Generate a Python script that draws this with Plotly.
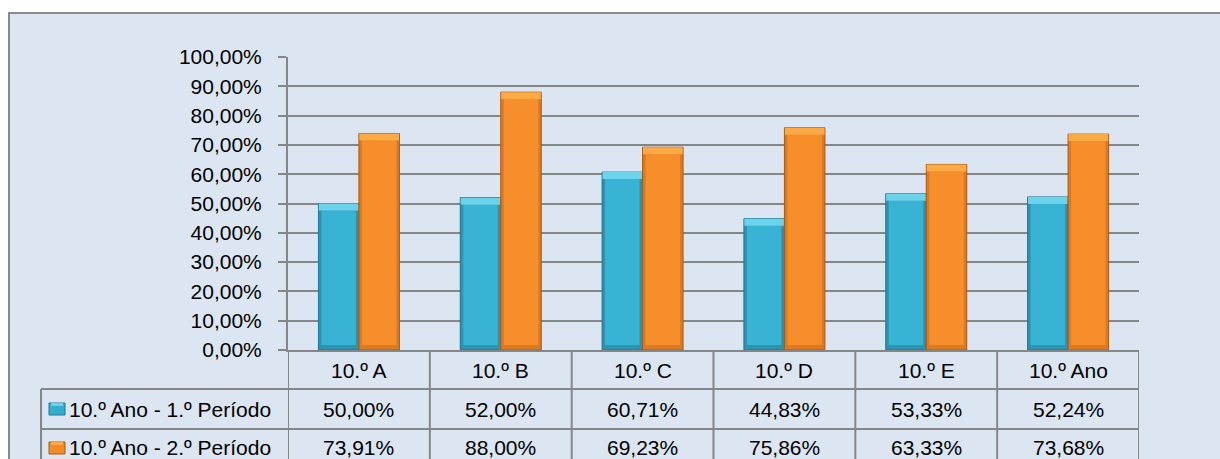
import plotly.graph_objects as go

# ---- data ----
categories = ["10.º A", "10.º B", "10.º C", "10.º D", "10.º E", "10.º Ano"]
series_names = ["10.º Ano - 1.º Período", "10.º Ano - 2.º Período"]
periodo1 = [50.00, 52.00, 60.71, 44.83, 53.33, 52.24]
periodo2 = [73.91, 88.00, 69.23, 75.86, 63.33, 73.68]
tick_vals = [0, 10, 20, 30, 40, 50, 60, 70, 80, 90, 100]
tick_labels = ["0,00%", "10,00%", "20,00%", "30,00%", "40,00%", "50,00%",
               "60,00%", "70,00%", "80,00%", "90,00%", "100,00%"]

# ---- styling ----
W, H = 1220, 459
FONT = "Liberation Sans, Arial, sans-serif"
FS = 21
GRID = "#868686"
BG = "#dce6f2"
STYLE = [
    dict(outer="#2a94b2", body="#38b3d3", top="#6cd3ec", line="#1f7690", key="#35aecd"),
    dict(outer="#dc7a20", body="#f58e2b", top="#fcaa45", line="#a85a15", key="#f28a28"),
]


def px_x(x):
    return x / W


def px_y(y):
    return (H - y) / H


def fmt(v):
    return f"{v:.2f}".replace(".", ",") + "%"


x_left, x_right = 288, 1139
y_top, y_zero = 57, 350
cat_px = (x_right - x_left) / len(categories)
bar_w = 40.5 / cat_px
inset = 3 / cat_px
pct_px = (y_zero - y_top) / 100
top_bev = 7 / pct_px
bot_bev = 5 / pct_px

fig = go.Figure()
for s, vals in enumerate((periodo1, periodo2)):
    st = STYLE[s]
    off = -bar_w if s == 0 else 0.0
    n = len(vals)
    fig.add_bar(x=categories, y=vals, name=series_names[s], width=[bar_w] * n, offset=[off] * n,
                marker=dict(color=st["outer"], line=dict(color=st["line"], width=1)), hoverinfo="skip")
    fig.add_bar(x=categories, y=[v - bot_bev - top_bev for v in vals], base=[bot_bev] * n,
                width=[bar_w - 2 * inset] * n, offset=[off + inset] * n,
                marker=dict(color=st["body"], line=dict(width=0)), hoverinfo="skip")
    fig.add_bar(x=categories, y=[top_bev] * n, base=[v - top_bev for v in vals],
                width=[bar_w - 0.006] * n, offset=[off + 0.003] * n,
                marker=dict(color=st["top"], line=dict(width=0)), hoverinfo="skip")

shapes = []
shapes.append(dict(type="rect", xref="paper", yref="paper", layer="below",
                   x0=px_x(9), x1=1.05, y0=-0.05, y1=px_y(13),
                   fillcolor=BG, line=dict(color="#8a8a8a", width=2)))

ln = dict(color=GRID, width=2)
for yy in (389, 429):
    shapes.append(dict(type="line", xref="paper", yref="paper",
                       x0=px_x(41), x1=px_x(x_right), y0=px_y(yy), y1=px_y(yy), line=ln))
shapes.append(dict(type="line", xref="paper", yref="paper",
                   x0=px_x(41), x1=px_x(41), y0=px_y(389), y1=-0.05, line=ln))
for i in range(len(categories) + 1):
    shapes.append(dict(type="line", xref="x", yref="paper",
                       x0=i - 0.5, x1=i - 0.5, y0=px_y(y_zero), y1=-0.05, line=ln))

annotations = []
row_y = [px_y(409), px_y(447)]
head_y = px_y(370)
for i, c in enumerate(categories):
    annotations.append(dict(x=c, xref="x", y=head_y, yref="paper", text=c,
                            showarrow=False, xanchor="center", yanchor="middle",
                            font=dict(family=FONT, size=FS, color="#000")))
    for r, vals in enumerate((periodo1, periodo2)):
        annotations.append(dict(x=c, xref="x", y=row_y[r], yref="paper", text=fmt(vals[i]),
                                showarrow=False, xanchor="center", yanchor="middle",
                                font=dict(family=FONT, size=FS, color="#000")))

for r, name in enumerate(series_names):
    yc = 409 + 39 * r
    shapes.append(dict(type="rect", xref="paper", yref="paper",
                       x0=px_x(49), x1=px_x(65), y0=px_y(yc + 6), y1=px_y(yc - 6),
                       fillcolor=STYLE[r]["key"], line=dict(color=STYLE[r]["line"], width=1)))
    shapes.append(dict(type="rect", xref="paper", yref="paper",
                       x0=px_x(51), x1=px_x(63), y0=px_y(yc - 3), y1=px_y(yc - 6),
                       fillcolor=STYLE[r]["top"], line=dict(width=0)))
    annotations.append(dict(x=px_x(67), xref="paper", y=row_y[r], yref="paper", text=name,
                            showarrow=False, xanchor="left", yanchor="middle",
                            font=dict(family=FONT, size=FS, color="#000")))

fig.update_layout(
    width=W, height=H, margin=dict(l=0, r=0, t=0, b=0, autoexpand=False),
    paper_bgcolor="white", plot_bgcolor="white",
    font=dict(family=FONT, size=FS, color="#000"),
    showlegend=False, barmode="overlay",
    xaxis=dict(domain=[px_x(x_left), px_x(x_right)], range=[-0.5, len(categories) - 0.5],
               showticklabels=False, showgrid=False, zeroline=False, automargin=False,
               showline=True, linecolor=GRID, linewidth=2),
    yaxis=dict(domain=[px_y(y_zero), px_y(y_top)], range=[0, 100], automargin=False,
               tickvals=tick_vals, ticktext=tick_labels,
               ticks="outside", ticklen=8, tickwidth=2, tickcolor=GRID,
               showgrid=True, gridcolor=GRID, gridwidth=2, zeroline=False,
               showline=True, linecolor=GRID, linewidth=2,
               ticklabelstandoff=12,
               tickfont=dict(family=FONT, size=FS, color="#000")),
    shapes=shapes, annotations=annotations,
)

fig.write_html("out.html", config={"displayModeBar": False},
               post_script="document.body.style.margin='0';document.body.style.overflow='hidden';")
